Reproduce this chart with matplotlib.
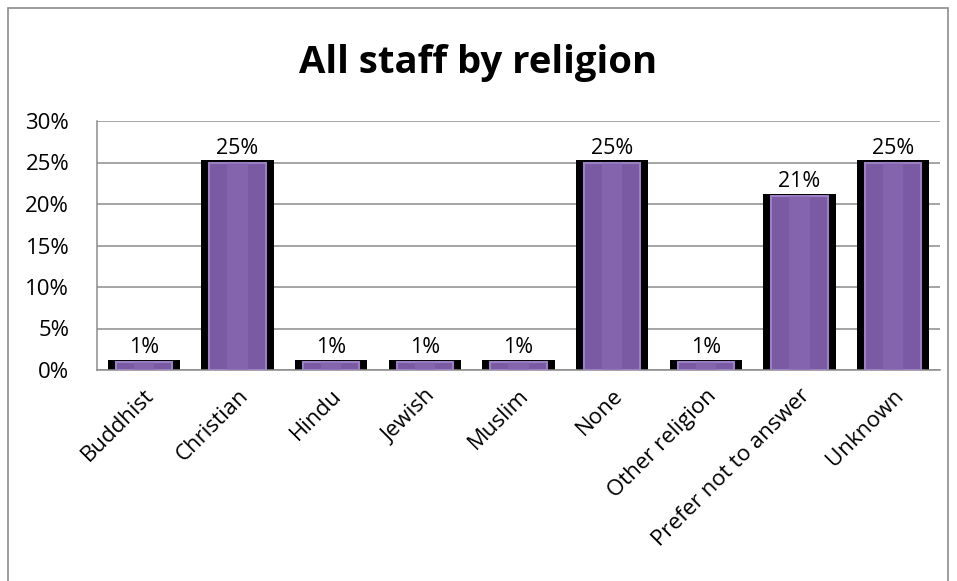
import matplotlib
matplotlib.use("Agg")
import matplotlib.pyplot as plt
from matplotlib.patches import Rectangle
from matplotlib.ticker import FuncFormatter
import numpy as np

categories = ["Buddhist", "Christian", "Hindu", "Jewish", "Muslim", "None",
              "Other religion", "Prefer not to answer", "Unknown"]
values = [1, 25, 1, 1, 1, 25, 1, 21, 25]
yticks = [0, 5, 10, 15, 20, 25, 30]

plt.rcParams['font.family'] = ['Open Sans', 'DejaVu Sans']

fig = plt.figure(figsize=(9.57, 5.81), dpi=100)
# outer chart border
fig.patches.append(Rectangle((8 / 957, -0.01), 940 / 957, 1 - 8 / 581 + 0.01,
                             transform=fig.transFigure, fill=False,
                             edgecolor='#8c8c8c', linewidth=1.2))

ax = fig.add_axes([97 / 957, 1 - 370 / 581, 843 / 957, 249 / 581])
x = np.arange(len(categories))

# black shadow behind each bar, then the purple bar with a lighter highlight
ax.bar(x, [v + 0.25 for v in values], width=0.77, color='black', zorder=2)
ax.bar(x, values, width=0.6, color='#7a5aa3', edgecolor='#9b80c4',
       linewidth=1.5, zorder=3)
ax.bar(x, values, width=0.22, color='#8a6bb5', zorder=4, alpha=0.6)

for xi, v in zip(x, values):
    ax.text(xi, v + 0.45, f"{v}%", ha='center', va='bottom', fontsize=15.5,
            zorder=5)

ax.set_xlim(-0.5, len(categories) - 0.5)
ax.set_ylim(0, 30)
ax.set_yticks(yticks)
ax.yaxis.set_major_formatter(FuncFormatter(lambda v, p: f"{int(v)}%"))
ax.grid(axis='y', color='#8c8c8c', linewidth=1.1, zorder=0)
ax.set_axisbelow(True)
for s in ['top', 'right']:
    ax.spines[s].set_visible(False)
ax.spines['left'].set_color('#8c8c8c')
ax.spines['bottom'].set_color('#8c8c8c')
ax.spines['left'].set_linewidth(1.1)
ax.spines['bottom'].set_linewidth(1.1)
ax.tick_params(axis='both', length=0, labelsize=16)
ax.tick_params(axis='y', pad=20)
ax.set_xticks(x)
ax.set_xticklabels(categories, rotation=45, ha='right', rotation_mode='anchor')
ax.tick_params(axis='x', pad=11)

fig.text(0.5, 1 - 63 / 581, "All staff by religion", ha='center', va='center',
         fontsize=27.5, fontweight='bold')

fig.savefig("out.png", dpi=100)
